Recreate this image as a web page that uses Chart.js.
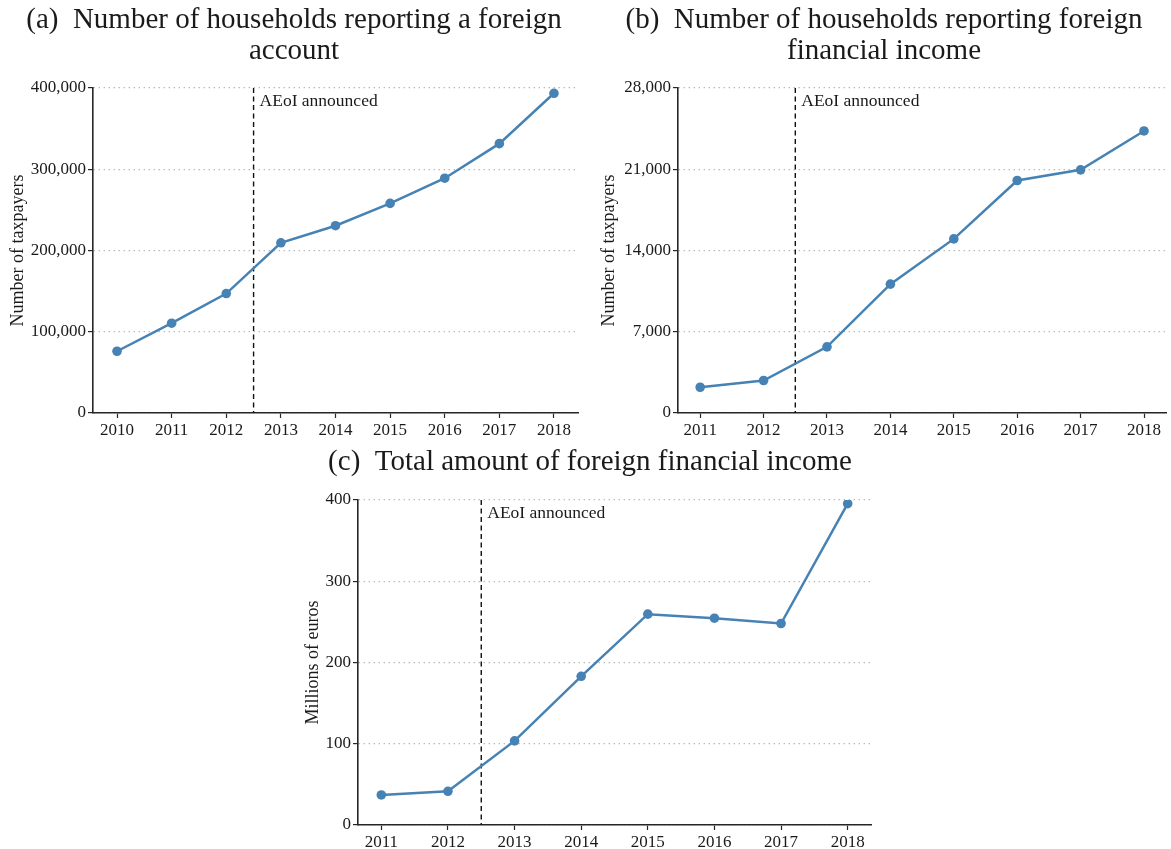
<!DOCTYPE html>
<html>
<head>
<meta charset="utf-8">
<script src="https://cdn.jsdelivr.net/npm/chart.js@4.4.1/dist/chart.umd.min.js"></script>
<style>
  html, body { margin: 0; padding: 0; background: #ffffff; }
  #wrap { position: relative; width: 1171px; height: 849px; overflow: hidden; }
  #wrap canvas { position: absolute; left: 0; top: 0; }
</style>
</head>
<body>
<div id="wrap">
  <canvas id="panelA" width="1171" height="849"></canvas>
  <canvas id="panelB" width="1171" height="849"></canvas>
  <canvas id="panelC" width="1171" height="849"></canvas>
</div>
<script>
// ---- data ----
const yearsAccount = [2010, 2011, 2012, 2013, 2014, 2015, 2016, 2017, 2018];
const householdsForeignAccount = [76000, 110500, 147000, 209500, 230500, 258000, 289000, 331500, 393500];

const yearsIncome = [2011, 2012, 2013, 2014, 2015, 2016, 2017, 2018];
const householdsForeignIncome = [2220, 2800, 5700, 11100, 15000, 20030, 20950, 24300];

const yearsAmount = [2011, 2012, 2013, 2014, 2015, 2016, 2017, 2018];
const foreignIncomeMillions = [37, 41.5, 103.5, 183, 259.5, 254.5, 248, 395.5];

const ticksAccount = [0, 100000, 200000, 300000, 400000];
const ticksIncome = [0, 7000, 14000, 21000, 28000];
const ticksAmount = [0, 100, 200, 300, 400];

const aeoiYear = 2012.5;
const aeoiLabel = 'AEoI announced';

const titleAccount = ['(a)  Number of households reporting a foreign', 'account'];
const titleIncome = ['(b)  Number of households reporting foreign', 'financial income'];
const titleAmount = ['(c)  Total amount of foreign financial income'];

const axisTitleTaxpayers = 'Number of taxpayers';
const axisTitleEuros = 'Millions of euros';

// ---- styling ----
const SERIF = '"Liberation Serif", "Times New Roman", serif';
const LINE_BLUE = '#4682b4';
const INK = '#1a1a1a';
const SPINE = '#262626';
const W = 1171, H = 849;

// Panel decorations: the AEoI marker, panel headings and rotated y-axis title
const decorations = {
  id: 'decorations',
  beforeDatasetsDraw(chart, args, opts) {
    const { ctx, chartArea, scales } = chart;
    const px = scales.x.getPixelForValue(opts.markerYear);
    ctx.save();
    ctx.strokeStyle = '#111';
    ctx.lineWidth = 1.4;
    ctx.setLineDash([5, 3.5]);
    ctx.beginPath();
    ctx.moveTo(px, chartArea.top);
    ctx.lineTo(px, chartArea.bottom);
    ctx.stroke();
    ctx.setLineDash([]);
    ctx.font = '17.5px ' + SERIF;
    ctx.fillStyle = INK;
    ctx.textAlign = 'left';
    ctx.textBaseline = 'alphabetic';
    ctx.fillText(opts.markerText, px + 6, chartArea.top + 18);
    ctx.restore();
  },
  afterDraw(chart, args, opts) {
    const { ctx, chartArea } = chart;
    ctx.save();
    ctx.fillStyle = INK;
    ctx.textAlign = 'center';
    ctx.textBaseline = 'alphabetic';
    ctx.font = opts.titleSize + 'px ' + SERIF;
    opts.title.forEach((line, i) => {
      ctx.fillText(line, opts.titleX, opts.titleY + i * opts.titleGap);
    });
    ctx.font = '18px ' + SERIF;
    ctx.translate(opts.yTitleX, (chartArea.top + chartArea.bottom) / 2);
    ctx.rotate(-Math.PI / 2);
    ctx.textBaseline = 'middle';
    ctx.fillText(opts.yTitle, 0, 0);
    ctx.restore();
  }
};

function makePanel(id, p) {
  const Y_W = 80, X_H = 40;
  const fmt = v => Number(v).toLocaleString('en-US');
  return new Chart(document.getElementById(id), {
    type: 'line',
    data: {
      datasets: [{
        data: p.years.map((yr, i) => ({ x: yr, y: p.values[i] })),
        borderColor: LINE_BLUE,
        backgroundColor: LINE_BLUE,
        borderWidth: 2.5,
        pointRadius: 4.8,
        pointBorderWidth: 0,
        pointBackgroundColor: LINE_BLUE,
        tension: 0,
        fill: false
      }]
    },
    options: {
      responsive: false,
      animation: false,
      events: [],
      devicePixelRatio: 1,
      layout: {
        padding: {
          left: p.area.left - Y_W,
          top: p.area.top,
          right: W - p.area.right,
          bottom: H - p.area.bottom - X_H
        }
      },
      plugins: {
        legend: { display: false },
        title: { display: false },
        tooltip: { enabled: false },
        decorations: {
          markerYear: aeoiYear,
          markerText: aeoiLabel,
          title: p.title,
          titleX: p.titleX,
          titleY: p.titleY,
          titleGap: 31,
          titleSize: 29,
          yTitle: p.yTitle,
          yTitleX: p.yTitleX
        }
      },
      scales: {
        x: {
          type: 'linear',
          min: p.xMin,
          max: p.xMax,
          afterBuildTicks: s => { s.ticks = p.years.map(v => ({ value: v })); },
          afterFit: s => { s.height = X_H; s.paddingLeft = 0; s.paddingRight = 0; },
          grid: {
            drawOnChartArea: false,
            drawTicks: true,
            tickLength: 5,
            tickColor: SPINE,
            tickWidth: 1.2
          },
          border: { display: true, color: SPINE, width: 1.6 },
          ticks: {
            font: { family: SERIF, size: 17 },
            color: INK,
            padding: 2,
            maxRotation: 0,
            autoSkip: false,
            callback: v => String(v)
          }
        },
        y: {
          type: 'linear',
          min: 0,
          max: p.yTicks[p.yTicks.length - 1],
          afterBuildTicks: s => { s.ticks = p.yTicks.map(v => ({ value: v })); },
          afterFit: s => { s.width = Y_W; s.paddingTop = 0; s.paddingBottom = 0; },
          grid: {
            color: '#b8b8b8',
            lineWidth: 1.2,
            drawTicks: true,
            tickLength: 5,
            tickColor: SPINE,
            tickWidth: 1.2,
            tickBorderDash: [0, 0]
          },
          border: { display: true, color: SPINE, width: 1.6, dash: [1.4, 3.6] },
          ticks: {
            font: { family: SERIF, size: 17 },
            color: INK,
            padding: 2,
            autoSkip: false,
            callback: v => fmt(v)
          }
        }
      }
    },
    plugins: [decorations]
  });
}

makePanel('panelA', {
  years: yearsAccount, values: householdsForeignAccount, yTicks: ticksAccount,
  xMin: 2009.56, xMax: 2018.44,
  area: { left: 93, top: 88, right: 578, bottom: 413 },
  title: titleAccount, titleX: 294, titleY: 28,
  yTitle: axisTitleTaxpayers, yTitleX: 18
});

makePanel('panelB', {
  years: yearsIncome, values: householdsForeignIncome, yTicks: ticksIncome,
  xMin: 2010.65, xMax: 2018.35,
  area: { left: 678, top: 88, right: 1168, bottom: 413 },
  title: titleIncome, titleX: 884, titleY: 28,
  yTitle: axisTitleTaxpayers, yTitleX: 609
});

makePanel('panelC', {
  years: yearsAmount, values: foreignIncomeMillions, yTicks: ticksAmount,
  xMin: 2010.65, xMax: 2018.35,
  area: { left: 358, top: 500, right: 871, bottom: 825 },
  title: titleAmount, titleX: 590, titleY: 470,
  yTitle: axisTitleEuros, yTitleX: 313
});
</script>
</body>
</html>
